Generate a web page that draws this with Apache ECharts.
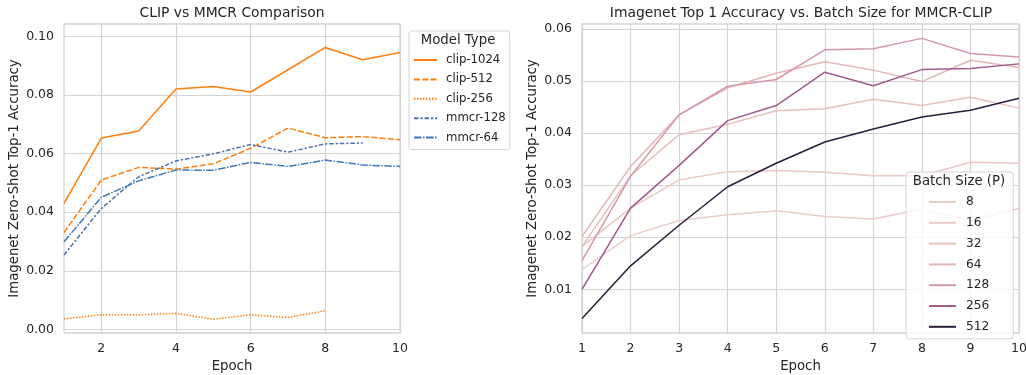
<!DOCTYPE html>
<html>
<head>
<meta charset="utf-8">
<script src="https://cdn.jsdelivr.net/npm/echarts@6/dist/echarts.min.js"></script>
<style>
html, body { margin: 0; background: #fff; }
#main { width: 1026px; height: 375px; }
</style>
</head>
<body>
<div id="main"></div>
<script>
// epochs on the x axis
var epochs = [1, 2, 3, 4, 5, 6, 7, 8, 9, 10];

// left panel: CLIP vs MMCR
var clip1024 = [0.0430, 0.0653, 0.0677, 0.0820, 0.0829, 0.0810, 0.0886, 0.0962, 0.0920, 0.0945];
var clip512  = [0.0331, 0.0510, 0.0553, 0.0547, 0.0565, 0.0618, 0.0687, 0.0654, 0.0658, 0.0647];
var clip256  = [0.0036, 0.0050, 0.0050, 0.0055, 0.0035, 0.0050, 0.0041, 0.0064];
var mmcr128  = [0.0254, 0.0413, 0.0521, 0.0575, 0.0599, 0.0631, 0.0605, 0.0633, 0.0636];
var mmcr64   = [0.0299, 0.0451, 0.0507, 0.0544, 0.0543, 0.0570, 0.0556, 0.0578, 0.0561, 0.0556];

// right panel: batch size sweep
var batchSizes = ['8', '16', '32', '64', '128', '256', '512'];
var bs8   = [0.0138, 0.0203, 0.0232, 0.0243, 0.0251, 0.0240, 0.0235, 0.0254, 0.0232, 0.0255];
var bs16  = [0.0182, 0.0256, 0.0310, 0.0326, 0.0328, 0.0325, 0.0318, 0.0318, 0.0344, 0.0342];
var bs32  = [0.0182, 0.0318, 0.0397, 0.0417, 0.0443, 0.0447, 0.0465, 0.0453, 0.0469, 0.0448];
var bs64  = [0.0201, 0.0336, 0.0435, 0.0487, 0.0515, 0.0537, 0.0521, 0.0499, 0.0540, 0.0526];
var bs128 = [0.0155, 0.0317, 0.0435, 0.0490, 0.0503, 0.0560, 0.0562, 0.0582, 0.0553, 0.0546];
var bs256 = [0.0100, 0.0256, 0.0338, 0.0424, 0.0453, 0.0517, 0.0491, 0.0522, 0.0524, 0.0533];
var bs512 = [0.0044, 0.0145, 0.0223, 0.0297, 0.0342, 0.0383, 0.0408, 0.0431, 0.0444, 0.0467];

// tick labels
var leftXTicks = [2, 4, 6, 8, 10];
var leftYTicks = [0, 0.02, 0.04, 0.06, 0.08, 0.10];
var rightXTicks = [1, 2, 3, 4, 5, 6, 7, 8, 9, 10];
var rightYTicks = [0.01, 0.02, 0.03, 0.04, 0.05, 0.06];

var font = 'DejaVu Sans';
var ink = '#262626';
var gridCol = '#d4d4d4';
var orange = '#ff7f0e';
var bsColors = ['#ebcdc8', '#eac8c4', '#e7c1bf', '#e3b5b7', '#d598a8', '#a05a8d', '#2c1d3d'];

function pairs(arr) {
    return arr.map(function (v, i) { return [epochs[i], v]; });
}

function xAxisCfg(idx, ticks) {
    return {
        type: 'value', gridIndex: idx, min: 1, max: 10,
        name: 'Epoch', nameLocation: 'middle', nameGap: 27,
        nameTextStyle: { fontFamily: font, fontSize: 13.3, color: ink },
        axisLine: { show: false },
        axisTick: { show: false, customValues: ticks },
        axisLabel: { customValues: ticks, fontFamily: font, fontSize: 12.5, color: ink, margin: 9 },
        splitLine: { show: true, lineStyle: { color: gridCol, width: 1.2 } }
    };
}

function yAxisCfg(idx, ticks, min, max) {
    return {
        type: 'value', gridIndex: idx, min: min, max: max,
        name: 'Imagenet Zero-Shot Top-1 Accuracy', nameLocation: 'middle', nameGap: 43,
        nameTextStyle: { fontFamily: font, fontSize: 13.3, color: ink },
        axisLine: { show: false },
        axisTick: { show: false, customValues: ticks },
        axisLabel: {
            customValues: ticks, fontFamily: font, fontSize: 12.5, color: ink, margin: 10,
            formatter: function (v) { return v.toFixed(2); }
        },
        splitLine: { show: true, lineStyle: { color: gridCol, width: 1.2 } }
    };
}

function lineSeries(name, data, color, dash, xi, yi) {
    return {
        type: 'line', name: name, data: pairs(data), xAxisIndex: xi, yAxisIndex: yi,
        symbol: 'none', silent: true, animation: false,
        lineStyle: { color: color, width: 1.5, type: dash || 'solid' },
        itemStyle: { color: color }
    };
}

var bsData = [bs8, bs16, bs32, bs64, bs128, bs256, bs512];
var series = [
    lineSeries('clip-1024', clip1024, orange, 'solid', 0, 0),
    lineSeries('clip-512', clip512, orange, [6, 2.25], 0, 0),
    lineSeries('clip-256', clip256, orange, [1.5, 1.5], 0, 0),
    lineSeries('mmcr-128', mmcr128, '#4c72b0', [4.5, 1.9, 2.25, 1.9], 0, 0),
    lineSeries('mmcr-64', mmcr64, '#3e78bb', [7.5, 1.5, 1.5, 1.5], 0, 0)
];
bsData.forEach(function (d, i) {
    series.push(lineSeries(batchSizes[i], d, bsColors[i], 'solid', 1, 1));
});

var chart = echarts.init(document.getElementById('main'), null, { renderer: 'canvas' });
chart.setOption({
    backgroundColor: '#ffffff',
    animation: false,
    grid: [
        { left: 64, top: 24, width: 336, height: 309, outerBoundsMode: 'none', containLabel: false, show: true, borderColor: gridCol, borderWidth: 1.3, backgroundColor: '#fff' },
        { left: 582, top: 24, width: 437, height: 309, outerBoundsMode: 'none', containLabel: false, show: true, borderColor: gridCol, borderWidth: 1.3, backgroundColor: '#fff' }
    ],
    xAxis: [xAxisCfg(0, leftXTicks), xAxisCfg(1, rightXTicks)],
    yAxis: [yAxisCfg(0, leftYTicks, -0.0012, 0.1042), yAxisCfg(1, rightYTicks, 0.0016, 0.06096)],
    legend: [
        {
            data: ['clip-1024', 'clip-512', 'clip-256', 'mmcr-128', 'mmcr-64'],
            orient: 'vertical', left: 409, top: 31,
            padding: [23, 4, 6, 4], itemWidth: 23, itemHeight: 10, itemGap: 7.4,
            itemStyle: { opacity: 0 },
            backgroundColor: 'rgba(255,255,255,0.8)', borderColor: '#d6d6d6', borderWidth: 1, borderRadius: 3,
            textStyle: { fontFamily: font, fontSize: 11.7, color: ink, padding: [0, 0, 0, 4] },
            selectedMode: false
        },
        {
            data: batchSizes,
            orient: 'vertical', left: 906, top: 172,
            padding: [24, 24, 6, 22], itemWidth: 27, itemHeight: 10, itemGap: 8.8,
            itemStyle: { opacity: 0 },
            backgroundColor: 'rgba(255,255,255,0.8)', borderColor: '#d6d6d6', borderWidth: 1, borderRadius: 3,
            textStyle: { fontFamily: font, fontSize: 12.2, color: ink, padding: [0, 0, 0, 5] },
            selectedMode: false
        }
    ],
    graphic: [
        { type: 'text', x: 232, y: 13, z: 10, style: { text: 'CLIP vs MMCR Comparison', fontFamily: font, fontSize: 13.9, fill: ink, align: 'center', verticalAlign: 'middle' } },
        { type: 'text', x: 801, y: 13, z: 10, style: { text: 'Imagenet Top 1 Accuracy vs. Batch Size for MMCR-CLIP', fontFamily: font, fontSize: 13.9, fill: ink, align: 'center', verticalAlign: 'middle' } },
        { type: 'text', x: 458, y: 41, z: 10, style: { text: 'Model Type', fontFamily: font, fontSize: 13.3, fill: ink, align: 'center', verticalAlign: 'middle' } },
        { type: 'text', x: 959, y: 182, z: 10, style: { text: 'Batch Size (P)', fontFamily: font, fontSize: 13.3, fill: ink, align: 'center', verticalAlign: 'middle' } }
    ],
    series: series
});
</script>
</body>
</html>
